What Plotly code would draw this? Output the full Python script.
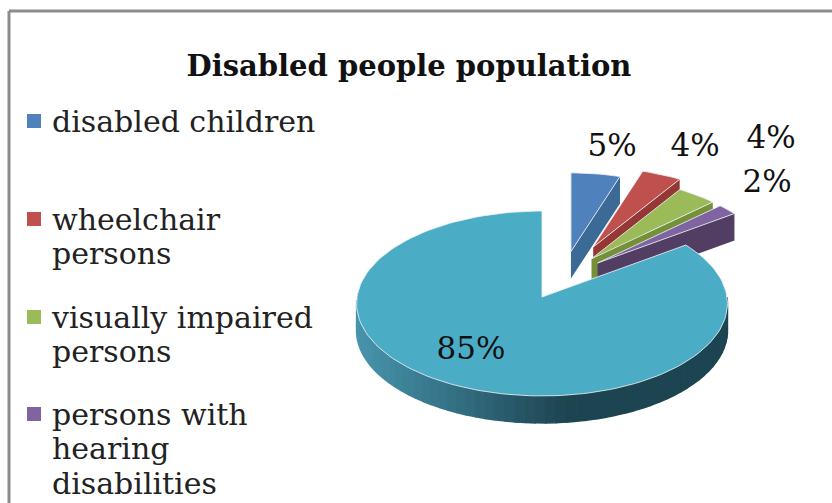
import math
import plotly.graph_objects as go

# ---- data ----
title = "Disabled people population"
categories = ["disabled children", "wheelchair persons", "visually impaired persons",
              "persons with hearing disabilities", "other"]
legend_lines = [["disabled children"], ["wheelchair", "persons"], ["visually impaired", "persons"],
                ["persons with", "hearing", "disabilities"]]
values = [5, 4, 4, 2, 85]

# ---- style ----
top_colors = ["#4f81bd", "#c0504d", "#9bbb59", "#8064a2", "#4bacc6"]
side_colors = ["#3b6a96", "#943735", "#74913a", "#523e63", "#1e4551"]
W, H = 832, 503
FONT = "DejaVu Serif"
CX, CY, RX, RY, PERSP, DEPTH = 542, 297, 185, 92, 0.07, 27
pull_x = [1.0, 0.65, 0.42, 0.39, 0]
pull_y = [0.5, 0.6, 0.54, 0.58, 0]
radius = [0.91, 0.92, 0.94, 0.95, 1]
label_anchor = [(612, 148), (695, 148), (771, 140), (767, 184), (471, 351)]
legend_first_y = [124, 222, 320, 417]
LINE_H = 34.5


def project(angle, r, i, drop=0):
    a = math.radians(angle)
    X, Y = r * math.sin(a), r * math.cos(a)
    s = 1 / (1 + PERSP * Y)
    mid = math.radians(mids[i])
    ox = RX * pull_x[i] * math.sin(mid)
    oy = RY * pull_y[i] * math.cos(mid)
    return CX + ox + RX * X * s, CY - oy - RY * Y * s + drop


total = sum(values)
starts, mids, ends = [], [], []
acc = 0
for v in values:
    starts.append(acc * 360 / total)
    acc += v
    ends.append(acc * 360 / total)
    mids.append((starts[-1] + ends[-1]) / 2)


def lerp_color(t):
    c0, c1 = (70, 148, 172), (29, 68, 81)
    return "rgb(%d,%d,%d)" % tuple(round(a + (b - a) * t) for a, b in zip(c0, c1))


fig = go.Figure()


def poly(xs, ys, fill, line="rgba(0,0,0,0)", width=0):
    fig.add_trace(go.Scatter(x=xs, y=ys, mode="lines", fill="toself", fillcolor=fill,
                             line=dict(color=line, width=width), hoverinfo="skip", showlegend=False))


for i, v in enumerate(values):
    if i < 4:
        # side wall under the clockwise edge of an exploded slice
        ox, oy = project(0, 0, i)
        ex, ey = project(ends[i], radius[i], i)
        poly([ox, ex, ex, ox], [oy, ey, ey + DEPTH, oy + DEPTH], side_colors[i])
    else:
        # rim of the big slice, shaded left to right
        n = 60
        for k in range(n):
            a0 = 268 - 178 * k / n
            a1 = 268 - 178 * (k + 1) / n
            x0, y0 = project(a0, 1, i)
            x1, y1 = project(a1, 1, i)
            t = min(1, max(0, (x0 - 357) / 205))
            poly([x0, x1, x1, x0], [y0, y1, y1 + DEPTH, y0 + DEPTH], lerp_color(t), lerp_color(t), 1.5)
    steps = max(4, int((ends[i] - starts[i]) / 2))
    angs = [starts[i] + (ends[i] - starts[i]) * k / steps for k in range(steps + 1)]
    pts = [project(a, radius[i], i) for a in angs]
    ax, ay = project(0, 0, i)
    poly([ax] + [p[0] for p in pts] + [ax], [ay] + [p[1] for p in pts] + [ay],
         top_colors[i], "rgba(235,240,245,0.85)", 1)

# percentage labels
fig.add_trace(go.Scatter(x=[p[0] for p in label_anchor], y=[p[1] for p in label_anchor],
                         mode="text", text=[f"{v}%" for v in values],
                         textfont=dict(family=FONT, size=31, color="#111111"),
                         textposition="middle center", hoverinfo="skip", showlegend=False))

# legend: keys and wrapped labels
fig.add_trace(go.Scatter(x=[34] * len(legend_lines), y=[y - 3 for y in legend_first_y], mode="markers",
                         marker=dict(symbol="square", size=14, color=top_colors[:len(legend_lines)]),
                         hoverinfo="skip", showlegend=False))
legend_x, legend_y, legend_t = [], [], []
for y0, lines in zip(legend_first_y, legend_lines):
    for k, text in enumerate(lines):
        legend_x.append(52)
        legend_y.append(y0 + k * LINE_H)
        legend_t.append(text)
fig.add_trace(go.Scatter(x=legend_x, y=legend_y, mode="text", text=legend_t,
                         textposition="middle right",
                         textfont=dict(family=FONT, size=30, color="#222222"),
                         hoverinfo="skip", showlegend=False))

fig.update_layout(
    width=W, height=H, margin=dict(l=0, r=0, t=0, b=0, autoexpand=False),
    paper_bgcolor="white", plot_bgcolor="white", showlegend=False,
    title=dict(text=f"<b>{title}</b>", x=409 / W, xanchor="center", y=1 - 66 / H, yanchor="middle",
               font=dict(family=FONT, size=29, color="#111111")),
    xaxis=dict(range=[0, W], visible=False, fixedrange=True),
    yaxis=dict(range=[H, 0], visible=False, fixedrange=True),
    shapes=[
        dict(type="line", xref="paper", yref="paper", x0=9 / W, x1=1, y0=1 - 11 / H, y1=1 - 11 / H,
             line=dict(color="#8c8c8c", width=3)),
        dict(type="line", xref="paper", yref="paper", x0=9 / W, x1=9 / W, y0=0, y1=1 - 11 / H,
             line=dict(color="#8c8c8c", width=3)),
    ],
)
fig.write_html("out.html", config={"displayModeBar": False},
               post_script="document.body.style.margin='0';")
